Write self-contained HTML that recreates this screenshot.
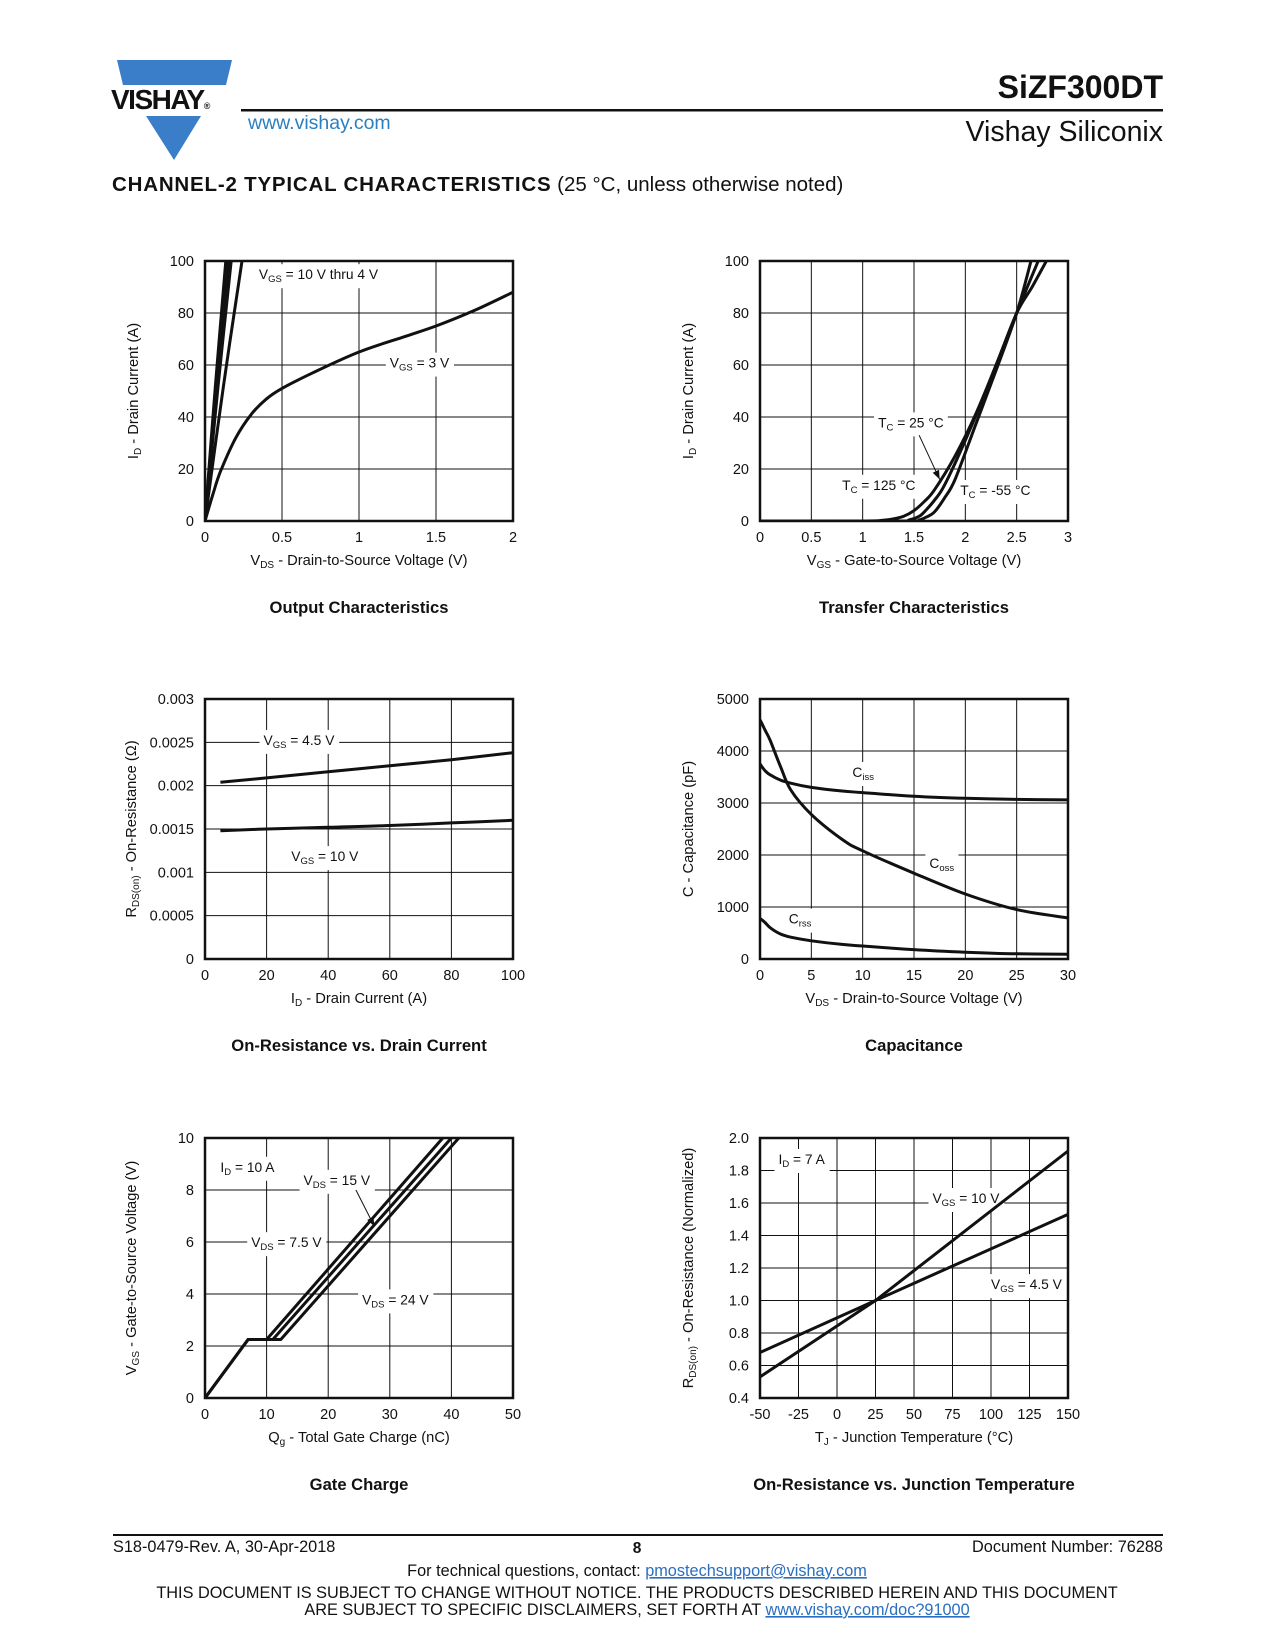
<!DOCTYPE html>
<html><head><meta charset="utf-8"><style>
html,body{margin:0;padding:0;background:#fff;}
svg{display:block;font-family:"Liberation Sans",Arial,sans-serif;}
</style></head><body>
<svg id="pg" width="1275" height="1650" viewBox="0 0 1275 1650" xmlns="http://www.w3.org/2000/svg">
<g>
 <polygon points="117,60 232,60 226,85 123,85" fill="#3a7dc9"/>
 <text x="111" y="109" font-size="28" font-weight="bold" letter-spacing="-1.5" fill="#111">VISHAY<tspan font-size="9">®</tspan></text>
 <polygon points="146,116 201,116 174,160" fill="#3a7dc9"/>
 <text x="248" y="129" font-size="19.5" fill="#2a7fc1">www.vishay.com</text>
 <text x="1163" y="98" font-size="32" font-weight="bold" text-anchor="end" fill="#111">SiZF300DT</text>
 <rect x="241" y="109" width="922" height="2.5" fill="#111"/>
 <text x="1163" y="141" font-size="28.5" text-anchor="end" fill="#111">Vishay Siliconix</text>
 <text x="112" y="191" font-size="20.5" fill="#111"><tspan font-weight="bold" letter-spacing="0.8">CHANNEL-2 TYPICAL CHARACTERISTICS</tspan> (25 °C, unless otherwise noted)</text>
</g>
<g id="charts"></g>
<g>
 <rect x="113" y="1534" width="1050" height="2" fill="#111"/>
 <text x="113" y="1552" font-size="16.3" fill="#111">S18-0479-Rev. A, 30-Apr-2018</text>
 <text x="637" y="1553" font-size="15.5" font-weight="bold" text-anchor="middle" fill="#111">8</text>
 <text x="1163" y="1552" font-size="16.3" text-anchor="end" fill="#111">Document Number: 76288</text>
 <text x="637" y="1576" font-size="16.3" text-anchor="middle" fill="#111">For technical questions, contact: <tspan fill="#2a6fc1" text-decoration="underline">pmostechsupport@vishay.com</tspan></text>
 <text x="637" y="1598" font-size="16.3" text-anchor="middle" fill="#111">THIS DOCUMENT IS SUBJECT TO CHANGE WITHOUT NOTICE. THE PRODUCTS DESCRIBED HEREIN AND THIS DOCUMENT</text>
 <text x="637" y="1615" font-size="16.3" text-anchor="middle" fill="#111">ARE SUBJECT TO SPECIFIC DISCLAIMERS, SET FORTH AT <tspan fill="#2a6fc1" text-decoration="underline">www.vishay.com/doc?91000</tspan></text>
</g>
</svg>
<script>
// ---- Chart 1: Output characteristics ----
const c1XTicks = [0, 0.5, 1, 1.5, 2];
const c1YTicks = [0, 20, 40, 60, 80, 100];
const c1Vgs3X = [0, 0.05, 0.1, 0.2, 0.3, 0.4, 0.5, 0.7, 1.0, 1.3, 1.5, 1.75, 2.0];
const c1Vgs3Y = [0, 10, 19, 32, 41, 47, 51, 57, 65, 71, 75, 81, 88];
const c1SteepTopX = [0.135, 0.145, 0.155, 0.17, 0.24];
// ---- Chart 2: Transfer ----
const c2XTicks = [0, 0.5, 1, 1.5, 2, 2.5, 3];
const c2YTicks = [0, 20, 40, 60, 80, 100];
const c2T125X = [0, 1.0, 1.2, 1.3, 1.4, 1.5, 1.6, 1.7, 1.9, 2.1, 2.3, 2.5, 2.65, 2.79];
const c2T125Y = [0, 0, 0.3, 0.8, 1.8, 4, 7.5, 12, 25, 41, 60, 80, 90, 100];
const c2T25X = [0, 1.35, 1.45, 1.55, 1.6, 1.7, 1.8, 2.0, 2.2, 2.5, 2.71];
const c2T25Y = [0, 0, 0.4, 1.8, 3.5, 8, 14, 31, 50, 80, 100];
const c2Tm55X = [0, 1.45, 1.55, 1.62, 1.7, 1.8, 1.9, 2.1, 2.3, 2.5, 2.64];
const c2Tm55Y = [0, 0, 0.4, 1.5, 3.5, 9, 16, 37, 58, 80, 100];
// ---- Chart 3: On-resistance vs drain current ----
const c3XTicks = [0, 20, 40, 60, 80, 100];
const c3YTicks = [0, 0.0005, 0.001, 0.0015, 0.002, 0.0025, 0.003];
const c3YLabels = ["0", "0.0005", "0.001", "0.0015", "0.002", "0.0025", "0.003"];
const c3IdX = [5, 20, 40, 60, 80, 100];
const c3Vgs45 = [0.00204, 0.00209, 0.00216, 0.00223, 0.00230, 0.00238];
const c3Vgs10 = [0.00148, 0.00150, 0.00152, 0.00154, 0.00157, 0.00160];
// ---- Chart 4: Capacitance ----
const c4XTicks = [0, 5, 10, 15, 20, 25, 30];
const c4YTicks = [0, 1000, 2000, 3000, 4000, 5000];
const c4VdsX = [0, 0.5, 1, 2, 3, 5, 8, 10, 15, 20, 25, 30];
const c4Ciss = [3750, 3620, 3540, 3440, 3380, 3300, 3230, 3200, 3130, 3090, 3070, 3060];
const c4Coss = [4600, 4400, 4200, 3700, 3250, 2780, 2300, 2080, 1650, 1250, 950, 790];
const c4Crss = [780, 700, 600, 480, 420, 350, 280, 250, 180, 130, 100, 90];
// ---- Chart 5: Gate charge ----
const c5XTicks = [0, 10, 20, 30, 40, 50];
const c5YTicks = [0, 2, 4, 6, 8, 10];
const c5Vds75X = [0, 7, 10, 38.6];
const c5Vds15X = [0, 7, 11, 40];
const c5Vds24X = [0, 7, 12.3, 41.2];
const c5VgsY = [0, 2.25, 2.25, 10];
// ---- Chart 6: On-resistance vs junction temperature ----
const c6XTicks = [-50, -25, 0, 25, 50, 75, 100, 125, 150];
const c6YTicks = [0.4, 0.6, 0.8, 1.0, 1.2, 1.4, 1.6, 1.8, 2.0];
const c6YLabels = ["0.4", "0.6", "0.8", "1.0", "1.2", "1.4", "1.6", "1.8", "2.0"];
const c6TjX = [-50, 25, 150];
const c6Vgs10 = [0.53, 1.0, 1.92];
const c6Vgs45 = [0.68, 1.0, 1.53];

const NS = "http://www.w3.org/2000/svg";
const root = document.getElementById('charts');
const TICK = 14.5, AX = 14.7, TITLE = 16.6, LBL = 13.8;
function mk(tag, attrs, parent) {
  const e = document.createElementNS(NS, tag);
  for (const k in attrs) e.setAttribute(k, attrs[k]);
  parent.appendChild(e);
  return e;
}
function makeChart(name, x0, y0, w, h, xmin, xmax, ymin, ymax) {
  const g = mk('g', {}, root);
  
  
  return {g, x0, y0, w, h,
    sx: v => x0 + (v - xmin) / (xmax - xmin) * w,
    sy: v => y0 + h - (v - ymin) / (ymax - ymin) * h};
}
function grid(c, xt, yt, xl, yl) {
  const gg = mk('g', {}, c.g);
  
  
  xt.forEach((v, i) => {
    const x = c.sx(v);
    const l = mk('line', {x1: x, x2: x, y1: c.y0, y2: c.y0 + c.h, stroke: '#111', 'stroke-width': 1}, gg);
    
    
    const t = mk('text', {x: x, y: c.y0 + c.h + 21, 'font-size': TICK, 'text-anchor': 'middle', fill: '#111'}, c.g);
    
    
    t.textContent = xl ? xl[i] : String(v);
  });
  yt.forEach((v, i) => {
    const y = c.sy(v);
    const l = mk('line', {x1: c.x0, x2: c.x0 + c.w, y1: y, y2: y, stroke: '#111', 'stroke-width': 1}, gg);
    
    
    const t = mk('text', {x: c.x0 - 11, y: y + 5, 'font-size': TICK, 'text-anchor': 'end', fill: '#111'}, c.g);
    
    
    t.textContent = yl ? yl[i] : String(v);
  });
}
function frame(c) {
  const r = mk('rect', {x: c.x0, y: c.y0, width: c.w, height: c.h, fill: 'none', stroke: '#111', 'stroke-width': 2.5}, c.g);
  
  
}
function series(c, xs, ys, name, linear) {
  const P = xs.map((x, i) => [c.sx(x), c.sy(ys[i])]);
  let d = 'M' + P[0][0].toFixed(1) + ',' + P[0][1].toFixed(1);
  for (let i = 0; i < P.length - 1; i++) {
    if (linear) { d += ' L' + P[i + 1][0].toFixed(1) + ',' + P[i + 1][1].toFixed(1); continue; }
    const p0 = P[Math.max(0, i - 1)], p1 = P[i], p2 = P[i + 1], p3 = P[Math.min(P.length - 1, i + 2)];
    const c1x = p1[0] + (p2[0] - p0[0]) / 6, c1y = p1[1] + (p2[1] - p0[1]) / 6;
    const c2x = p2[0] - (p3[0] - p1[0]) / 6, c2y = p2[1] - (p3[1] - p1[1]) / 6;
    d += ` C${c1x.toFixed(1)},${c1y.toFixed(1)} ${c2x.toFixed(1)},${c2y.toFixed(1)} ${p2[0].toFixed(1)},${p2[1].toFixed(1)}`;
  }
  const p = mk('path', {d: d, fill: 'none', stroke: '#111', 'stroke-width': 3, 'stroke-linejoin': 'round'}, c.g);
  
  
  p.setAttribute('clip-path', 'url(#clip-' + c.x0 + '-' + c.y0 + ')');
}
function clip(c) {
  let defs = document.getElementById('defs') || mk('defs', {id: 'defs'}, document.getElementById('pg'));
  const cp = mk('clipPath', {id: 'clip-' + c.x0 + '-' + c.y0}, defs);
  mk('rect', {x: c.x0, y: c.y0, width: c.w, height: c.h}, cp);
}
function label(c, x, y, main, sub, rest, name, anchor) {
  const t = mk('text', {x: x, y: y, 'font-size': LBL, fill: '#111', 'text-anchor': anchor || 'start'}, c.g);
  
  
  t.appendChild(document.createTextNode(main));
  if (sub) {
    const s = mk('tspan', {'font-size': 9.5, dy: 3}, t); s.textContent = sub;
    const r2 = mk('tspan', {dy: -3}, t); r2.textContent = rest;
  }
  const b = t.getBBox();
  const bg = mk('rect', {x: b.x - 4, y: b.y - 3, width: b.width + 8, height: b.height + 6, fill: '#fff'}, c.g);
  c.g.insertBefore(bg, t);
  
  
  return t;
}
function axisTitles(c, xMain, xSub, xRest, yMain, ySub, yRest, title, ytx) {
  const cx = c.x0 + c.w / 2;
  const t = mk('text', {x: cx, y: c.y0 + c.h + 44, 'font-size': AX, 'text-anchor': 'middle', fill: '#111'}, c.g);
  
  
  t.appendChild(document.createTextNode(xMain));
  if (xSub) { const s = mk('tspan', {'font-size': 10, dy: 3}, t); s.textContent = xSub; const r = mk('tspan', {dy: -3}, t); r.textContent = xRest; }
  const cy = c.y0 + c.h / 2;
  const yt = mk('text', {x: ytx, y: cy, 'font-size': AX, 'text-anchor': 'middle', fill: '#111', transform: 'rotate(-90 ' + ytx + ' ' + cy + ')'}, c.g);
  
  
  yt.appendChild(document.createTextNode(yMain));
  if (ySub) { const s = mk('tspan', {'font-size': 10, dy: 3}, yt); s.textContent = ySub; const r = mk('tspan', {dy: -3}, yt); r.textContent = yRest; }
  const tt = mk('text', {x: cx, y: c.y0 + c.h + 92, 'font-size': TITLE, 'font-weight': 'bold', 'text-anchor': 'middle', fill: '#111'}, c.g);
  
  
  tt.textContent = title;
}
function arrow(c, x1, y1, x2, y2, name) {
  const l = mk('line', {x1: x1, y1: y1, x2: x2, y2: y2, stroke: '#111', 'stroke-width': 1}, c.g);
  
  
  const a = Math.atan2(y2 - y1, x2 - x1), L = 9, W = 3.5;
  const bx = x2 - L * Math.cos(a), by = y2 - L * Math.sin(a);
  const p = mk('polygon', {points: `${x2},${y2} ${bx - W * Math.sin(a)},${by + W * Math.cos(a)} ${bx + W * Math.sin(a)},${by - W * Math.cos(a)}`, fill: '#111'}, c.g);
  
  
}
const LX = 205, RX = 760, W = 308, H = 260, R1 = 261, R2 = 699, R3 = 1138;

// Chart 1
let c = makeChart('output-characteristics-chart', LX, R1, W, H, 0, 2, 0, 100);
clip(c); grid(c, c1XTicks, c1YTicks);
label(c, c.sx(0.35), c.sy(93), 'V', 'GS', ' = 10 V thru 4 V', 'label-vgs-10-4');
label(c, c.sx(1.2), c.sy(59), 'V', 'GS', ' = 3 V', 'label-vgs-3');
series(c, c1Vgs3X, c1Vgs3Y, 'series-vgs-3v');
c1SteepTopX.forEach(xt => series(c, [0, xt * 0.5, xt], [0, 52, 100], 'series-vgs-steep'));
frame(c);
axisTitles(c, 'V', 'DS', ' - Drain-to-Source Voltage (V)', 'I', 'D', ' - Drain Current (A)', 'Output Characteristics', 138);

// Chart 2
c = makeChart('transfer-characteristics-chart', RX, R1, W, H, 0, 3, 0, 100);
clip(c); grid(c, c2XTicks, c2YTicks);
label(c, c.sx(1.15), c.sy(36), 'T', 'C', ' = 25 °C', 'label-tc-25');
label(c, c.sx(0.8), c.sy(12), 'T', 'C', ' = 125 °C', 'label-tc-125');
label(c, c.sx(1.95), c.sy(10), 'T', 'C', ' = -55 °C', 'label-tc-m55');
arrow(c, c.sx(1.55), c.sy(33), c.sx(1.75), c.sy(16), 'arrow-tc-25');
series(c, c2T125X, c2T125Y, 'series-tc-125');
series(c, c2T25X, c2T25Y, 'series-tc-25');
series(c, c2Tm55X, c2Tm55Y, 'series-tc-m55');
frame(c);
axisTitles(c, 'V', 'GS', ' - Gate-to-Source Voltage (V)', 'I', 'D', ' - Drain Current (A)', 'Transfer Characteristics', 693);

// Chart 3
c = makeChart('on-resistance-vs-current-chart', LX, R2, W, H, 0, 100, 0, 0.003);
clip(c); grid(c, c3XTicks, c3YTicks, null, c3YLabels);
label(c, c.sx(19), c.sy(0.00247), 'V', 'GS', ' = 4.5 V', 'label-vgs-4-5');
label(c, c.sx(28), c.sy(0.00113), 'V', 'GS', ' = 10 V', 'label-vgs-10');
series(c, c3IdX, c3Vgs45, 'series-vgs-4-5v');
series(c, c3IdX, c3Vgs10, 'series-vgs-10v');
frame(c);
axisTitles(c, 'I', 'D', ' - Drain Current (A)', 'R', 'DS(on)', ' - On-Resistance (Ω)', 'On-Resistance vs. Drain Current', 136);

// Chart 4
c = makeChart('capacitance-chart', RX, R2, W, H, 0, 30, 0, 5000);
clip(c); grid(c, c4XTicks, c4YTicks);
label(c, c.sx(9), c.sy(3500), 'C', 'iss', '', 'label-ciss');
label(c, c.sx(16.5), c.sy(1750), 'C', 'oss', '', 'label-coss');
label(c, c.sx(2.8), c.sy(680), 'C', 'rss', '', 'label-crss');
series(c, c4VdsX, c4Ciss, 'series-ciss');
series(c, c4VdsX, c4Coss, 'series-coss');
series(c, c4VdsX, c4Crss, 'series-crss');
frame(c);
axisTitles(c, 'V', 'DS', ' - Drain-to-Source Voltage (V)', 'C - Capacitance (pF)', '', '', 'Capacitance', 693);

// Chart 5
c = makeChart('gate-charge-chart', LX, R3, W, H, 0, 50, 0, 10);
clip(c); grid(c, c5XTicks, c5YTicks);
label(c, c.sx(2.5), c.sy(8.7), 'I', 'D', ' = 10 A', 'label-id-10');
label(c, c.sx(16), c.sy(8.2), 'V', 'DS', ' = 15 V', 'label-vds-15');
label(c, c.sx(7.5), c.sy(5.8), 'V', 'DS', ' = 7.5 V', 'label-vds-7-5');
label(c, c.sx(25.5), c.sy(3.6), 'V', 'DS', ' = 24 V', 'label-vds-24');
arrow(c, c.sx(24.5), c.sy(8.0), c.sx(27.5), c.sy(6.6), 'arrow-vds-15');
series(c, c5Vds75X, c5VgsY, 'series-vds-7-5v', true);
series(c, c5Vds15X, c5VgsY, 'series-vds-15v', true);
series(c, c5Vds24X, c5VgsY, 'series-vds-24v', true);
frame(c);
axisTitles(c, 'Q', 'g', ' - Total Gate Charge (nC)', 'V', 'GS', ' - Gate-to-Source Voltage (V)', 'Gate Charge', 136);

// Chart 6
c = makeChart('on-resistance-vs-temperature-chart', RX, R3, W, H, -50, 150, 0.4, 2.0);
clip(c); grid(c, c6XTicks, c6YTicks, null, c6YLabels);
label(c, c.sx(-38), c.sy(1.84), 'I', 'D', ' = 7 A', 'label-id-7');
label(c, c.sx(62), c.sy(1.6), 'V', 'GS', ' = 10 V', 'label-vgs-10');
label(c, c.sx(100), c.sy(1.07), 'V', 'GS', ' = 4.5 V', 'label-vgs-4-5');
series(c, c6TjX, c6Vgs10, 'series-vgs-10v', true);
series(c, c6TjX, c6Vgs45, 'series-vgs-4-5v', true);
frame(c);
axisTitles(c, 'T', 'J', ' - Junction Temperature (°C)', 'R', 'DS(on)', ' - On-Resistance (Normalized)', 'On-Resistance vs. Junction Temperature', 693);
</script>
</body></html>
